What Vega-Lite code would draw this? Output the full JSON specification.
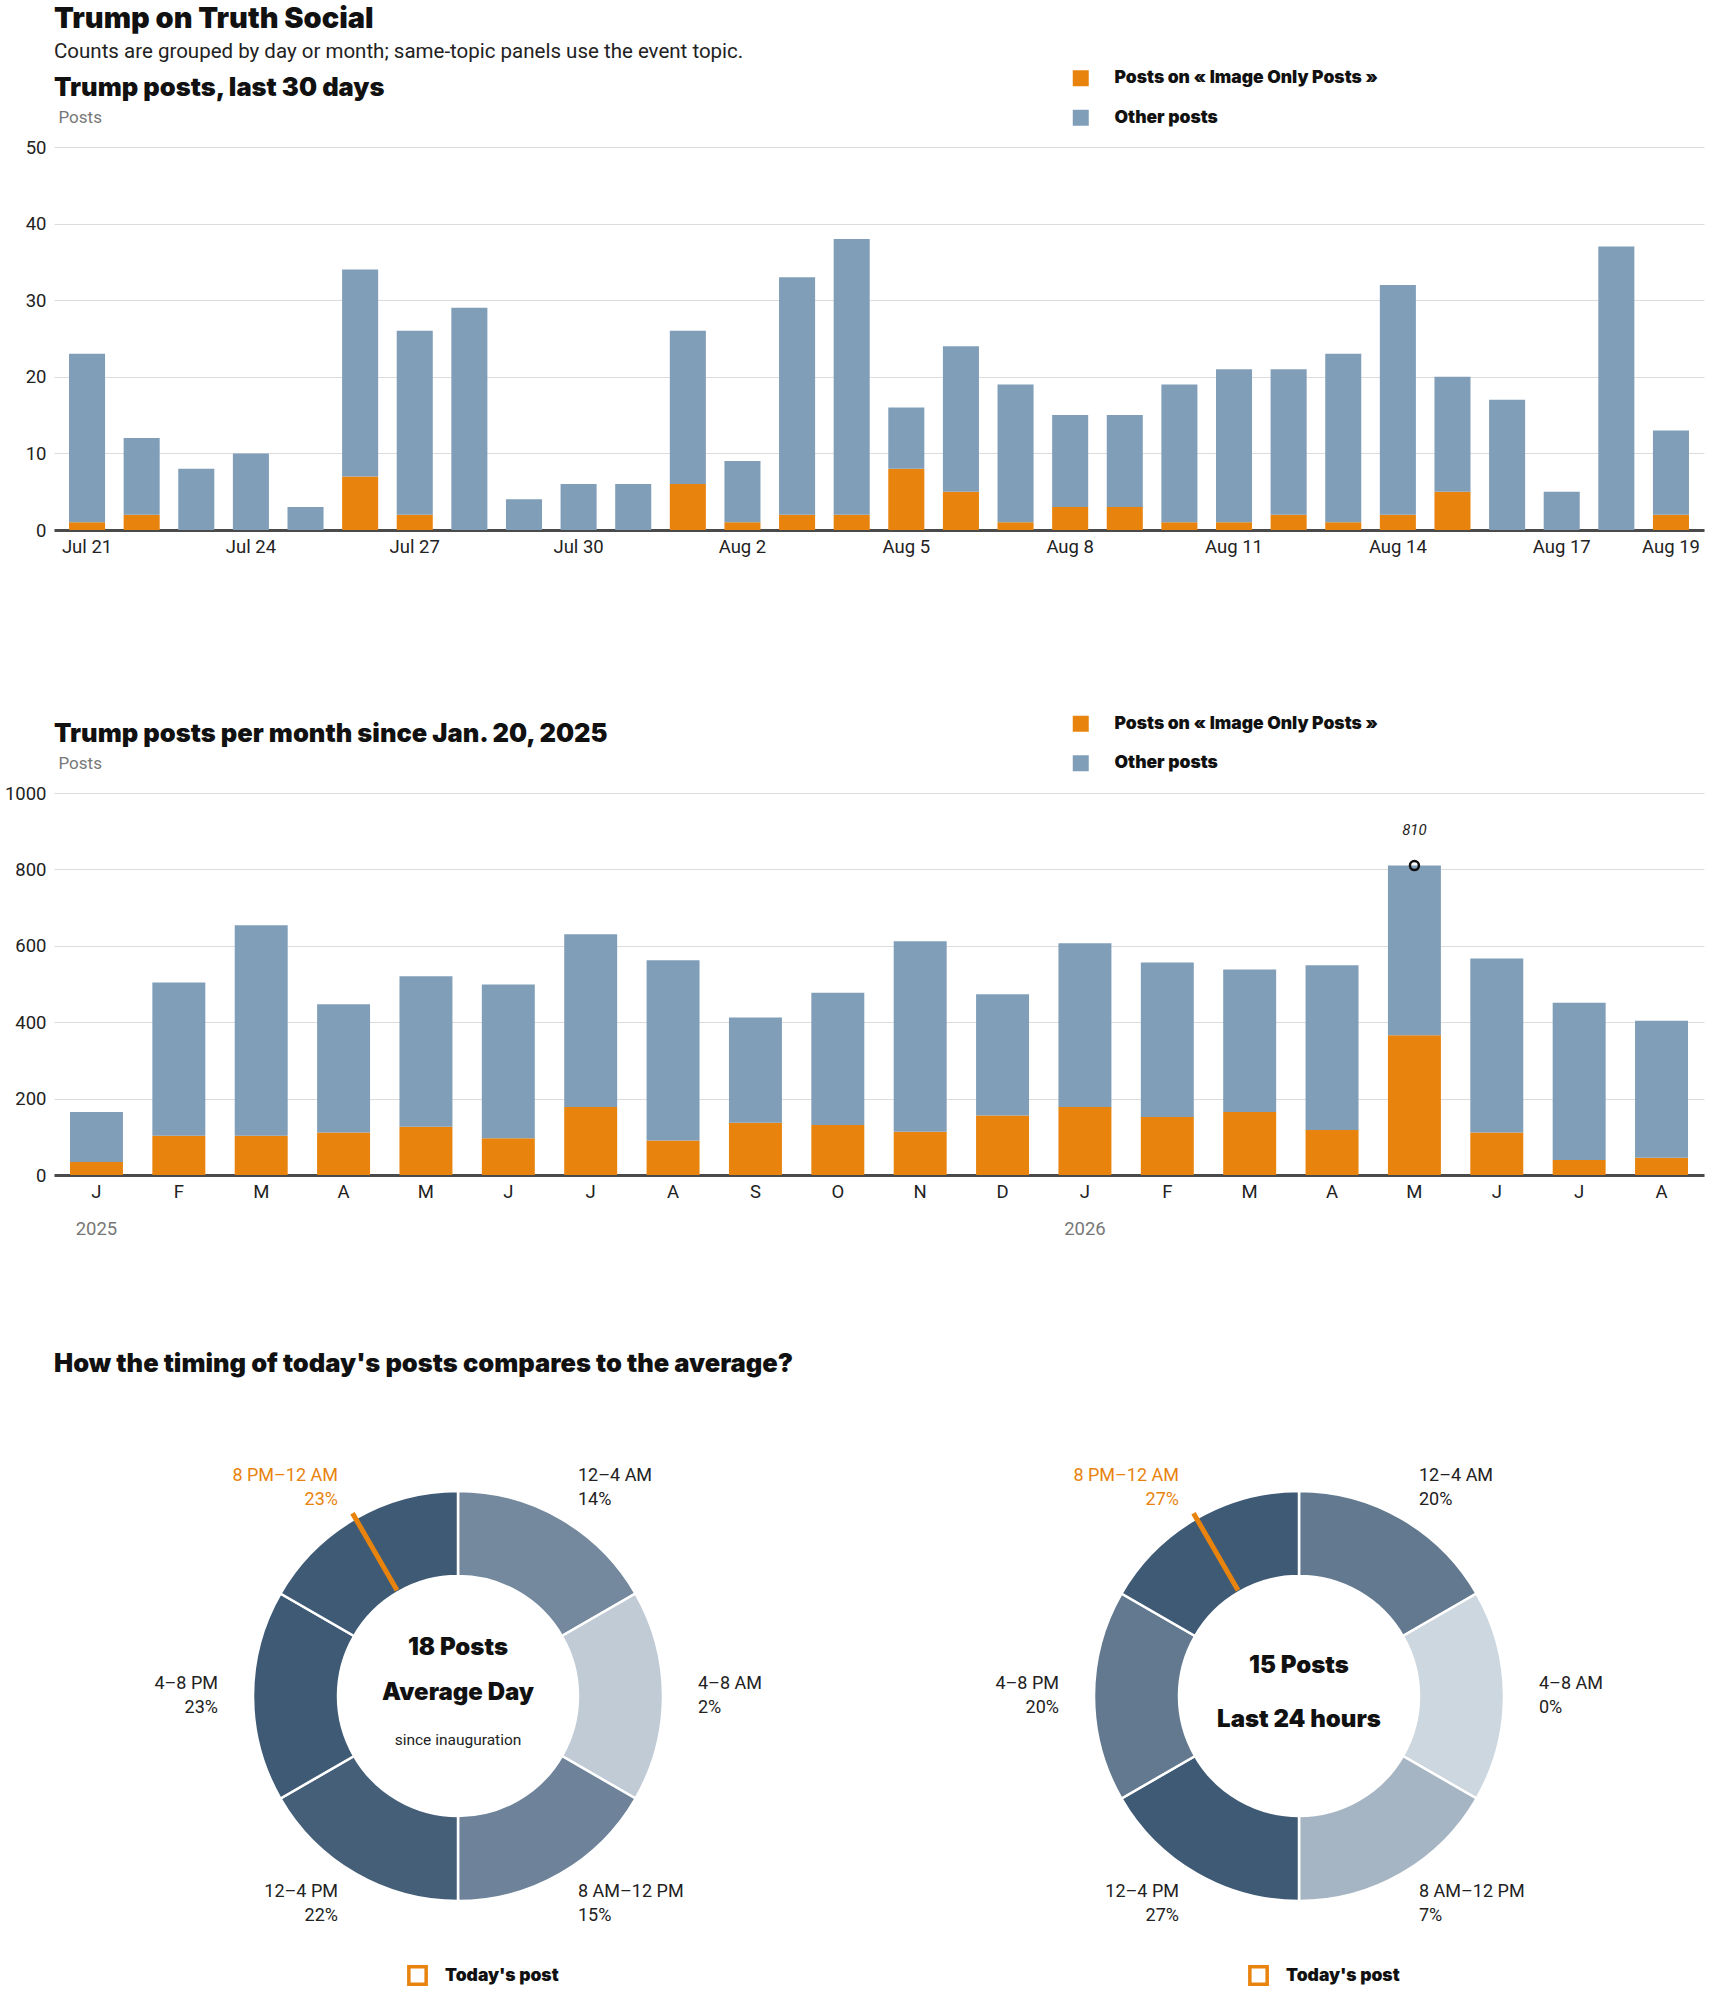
{
  "$schema": "https://vega.github.io/schema/vega-lite/v6.json",
  "background": "white",
  "padding": {"left": 4, "top": 5, "right": 4, "bottom": 2},
  "title": {
    "text": "Trump on Truth Social",
    "subtitle": "Counts are grouped by day or month; same-topic panels use the event topic.",
    "anchor": "start",
    "frame": "group",
    "font": "Inter",
    "fontWeight": 900,
    "fontSize": 29,
    "color": "#111",
    "subtitleFont": "Roboto",
    "subtitleFontSize": 20.5,
    "subtitleColor": "#222",
    "subtitlePadding": 8,
    "offset": 7
  },
  "datasets": {
    "dailyPosts": [
      {"day": "Jul 21", "image": 1, "other": 22},
      {"day": "Jul 22", "image": 2, "other": 10},
      {"day": "Jul 23", "image": 0, "other": 8},
      {"day": "Jul 24", "image": 0, "other": 10},
      {"day": "Jul 25", "image": 0, "other": 3},
      {"day": "Jul 26", "image": 7, "other": 27},
      {"day": "Jul 27", "image": 2, "other": 24},
      {"day": "Jul 28", "image": 0, "other": 29},
      {"day": "Jul 29", "image": 0, "other": 4},
      {"day": "Jul 30", "image": 0, "other": 6},
      {"day": "Jul 31", "image": 0, "other": 6},
      {"day": "Aug 1", "image": 6, "other": 20},
      {"day": "Aug 2", "image": 1, "other": 8},
      {"day": "Aug 3", "image": 2, "other": 31},
      {"day": "Aug 4", "image": 2, "other": 36},
      {"day": "Aug 5", "image": 8, "other": 8},
      {"day": "Aug 6", "image": 5, "other": 19},
      {"day": "Aug 7", "image": 1, "other": 18},
      {"day": "Aug 8", "image": 3, "other": 12},
      {"day": "Aug 9", "image": 3, "other": 12},
      {"day": "Aug 10", "image": 1, "other": 18},
      {"day": "Aug 11", "image": 1, "other": 20},
      {"day": "Aug 12", "image": 2, "other": 19},
      {"day": "Aug 13", "image": 1, "other": 22},
      {"day": "Aug 14", "image": 2, "other": 30},
      {"day": "Aug 15", "image": 5, "other": 15},
      {"day": "Aug 16", "image": 0, "other": 17},
      {"day": "Aug 17", "image": 0, "other": 5},
      {"day": "Aug 18", "image": 0, "other": 37},
      {"day": "Aug 19", "image": 2, "other": 11}
    ],
    "monthlyPosts": [
      {"month": "2025-01", "image": 34, "other": 131},
      {"month": "2025-02", "image": 103, "other": 401},
      {"month": "2025-03", "image": 103, "other": 551},
      {"month": "2025-04", "image": 111, "other": 336},
      {"month": "2025-05", "image": 126, "other": 394},
      {"month": "2025-06", "image": 96, "other": 403},
      {"month": "2025-07", "image": 178, "other": 452},
      {"month": "2025-08", "image": 90, "other": 472},
      {"month": "2025-09", "image": 137, "other": 275},
      {"month": "2025-10", "image": 131, "other": 346},
      {"month": "2025-11", "image": 113, "other": 499},
      {"month": "2025-12", "image": 156, "other": 317},
      {"month": "2026-01", "image": 178, "other": 429},
      {"month": "2026-02", "image": 152, "other": 404},
      {"month": "2026-03", "image": 165, "other": 373},
      {"month": "2026-04", "image": 118, "other": 431},
      {"month": "2026-05", "image": 366, "other": 444},
      {"month": "2026-06", "image": 111, "other": 456},
      {"month": "2026-07", "image": 39, "other": 412},
      {"month": "2026-08", "image": 45, "other": 359}
    ],
    "peakMonth": [{"month": "2026-05", "posts": 810}],
    "avgDay": [
      {"slot": 1, "period": "12–4 AM", "hours": 4, "share": 0.14},
      {"slot": 2, "period": "4–8 AM", "hours": 4, "share": 0.02},
      {"slot": 3, "period": "8 AM–12 PM", "hours": 4, "share": 0.15},
      {"slot": 4, "period": "12–4 PM", "hours": 4, "share": 0.22},
      {"slot": 5, "period": "4–8 PM", "hours": 4, "share": 0.23},
      {"slot": 6, "period": "8 PM–12 AM", "hours": 4, "share": 0.23}
    ],
    "last24": [
      {"slot": 1, "period": "12–4 AM", "hours": 4, "share": 0.20},
      {"slot": 2, "period": "4–8 AM", "hours": 4, "share": 0.0},
      {"slot": 3, "period": "8 AM–12 PM", "hours": 4, "share": 0.07},
      {"slot": 4, "period": "12–4 PM", "hours": 4, "share": 0.27},
      {"slot": 5, "period": "4–8 PM", "hours": 4, "share": 0.20},
      {"slot": 6, "period": "8 PM–12 AM", "hours": 4, "share": 0.27}
    ],
    "todayPost": [{"hour": 22, "label": "Today's post"}],
    "avgCenter": [{"count": "18 Posts", "caption": "Average Day", "note": "since inauguration"}],
    "lastCenter": [{"count": "15 Posts", "caption": "Last 24 hours"}]
  },
  "bounds": "flush",
  "spacing": 263,
  "resolve": {"scale": {"color": "independent", "stroke": "independent"}, "legend": {"color": "independent", "stroke": "independent"}},
  "vconcat": [
    {
      "width": 1650,
      "height": 383,
      "title": {"text": "Trump posts, last 30 days", "anchor": "start", "frame": "group", "offset": -32},
      "data": {"name": "dailyPosts"},
      "transform": [{"fold": ["image", "other"], "as": ["series", "posts"]}],
      "mark": {"type": "bar"},
      "encoding": {
        "x": {
          "field": "day", "type": "ordinal", "sort": null,
          "scale": {"paddingInner": 0.34, "paddingOuter": 0.275},
          "axis": {
            "title": null, "labelAngle": 0, "labelPadding": 7,
            "values": ["Jul 21", "Jul 24", "Jul 27", "Jul 30", "Aug 2", "Aug 5", "Aug 8", "Aug 11", "Aug 14", "Aug 17", "Aug 19"],
            "domain": true, "domainColor": "#4a4a4a", "domainWidth": 3
          }
        },
        "y": {
          "field": "posts", "type": "quantitative", "stack": "zero",
          "scale": {"domain": [0, 50]},
          "axis": {
            "values": [0, 10, 20, 30, 40, 50], "grid": true, "domain": false,
            "title": "Posts", "titleAngle": 0, "titleAlign": "left", "titleBaseline": "alphabetic",
            "titleX": 4, "titleY": -25
          }
        },
        "color": {
          "field": "series", "type": "nominal",
          "scale": {"domain": ["image", "other"], "range": ["#e8830e", "#809eb8"]},
          "legend": {
            "orient": "none", "legendX": 1018, "legendY": -77.5,
            "labelExpr": "datum.label == 'image' ? 'Posts on « Image Only Posts »' : 'Other posts'"
          }
        },
        "order": {"field": "series", "sort": "ascending"}
      }
    },
    {
      "width": 1650,
      "height": 382,
      "title": {"text": "Trump posts per month since Jan. 20, 2025", "anchor": "start", "frame": "group", "offset": -32},
      "resolve": {"axis": {"x": "independent"}},
      "layer": [
        {
          "data": {"name": "monthlyPosts"},
          "transform": [{"fold": ["image", "other"], "as": ["series", "posts"]}],
          "mark": {"type": "bar"},
          "encoding": {
            "x": {
              "field": "month", "type": "ordinal",
              "scale": {"paddingInner": 0.357, "paddingOuter": 0.194},
              "axis": {
                "title": null, "labelAngle": 0, "labelPadding": 7,
                "labelExpr": "['J','F','M','A','M','J','J','A','S','O','N','D'][toNumber(slice(datum.value, 5, 7)) - 1]",
                "domain": true, "domainColor": "#4a4a4a", "domainWidth": 3
              }
            },
            "y": {
              "field": "posts", "type": "quantitative", "stack": "zero",
              "scale": {"domain": [0, 1000]},
              "axis": {
                "values": [0, 200, 400, 600, 800, 1000], "format": "d", "grid": true, "domain": false,
                "title": "Posts", "titleAngle": 0, "titleAlign": "left", "titleBaseline": "alphabetic",
                "titleX": 4, "titleY": -25
              }
            },
            "color": {
              "field": "series", "type": "nominal",
              "scale": {"domain": ["image", "other"], "range": ["#e8830e", "#809eb8"]},
              "legend": {
                "orient": "none", "legendX": 1018, "legendY": -78,
                "labelExpr": "datum.label == 'image' ? 'Posts on « Image Only Posts »' : 'Other posts'"
              }
            },
            "order": {"field": "series", "sort": "ascending"}
          }
        },
        {
          "data": {"name": "peakMonth"},
          "mark": {"type": "point", "shape": "circle", "filled": false, "size": 80, "stroke": "#111", "strokeWidth": 2.5, "opacity": 1},
          "encoding": {
            "x": {
              "field": "month", "type": "ordinal",
              "axis": {
                "orient": "bottom", "offset": 38, "title": null, "labelAngle": 0, "labelPadding": 6,
                "domain": false, "ticks": false, "labelColor": "#777",
                "labelExpr": "slice(datum.value, 5, 7) == '01' ? slice(datum.value, 0, 4) : ''"
              }
            },
            "y": {"field": "posts", "type": "quantitative"}
          }
        },
        {
          "data": {"name": "peakMonth"},
          "mark": {"type": "text", "dy": -36, "fontStyle": "italic", "fontSize": 15, "color": "#222"},
          "encoding": {
            "x": {"field": "month", "type": "ordinal", "axis": null},
            "y": {"field": "posts", "type": "quantitative"},
            "text": {"field": "posts", "type": "quantitative"}
          }
        }
      ]
    },
    {
      "title": {"text": "How the timing of today's posts compares to the average?", "anchor": "start", "frame": "group", "offset": 61},
      "bounds": "flush",
      "spacing": 33,
      "resolve": {"scale": {"color": "independent", "stroke": "independent", "theta": "independent"}, "legend": {"stroke": "independent"}},
      "hconcat": [
        {
          "width": 808,
          "height": 516,
          "layer": [
            {
              "data": {"name": "avgDay"},
              "mark": {"type": "arc", "radius": 205, "radius2": 120, "stroke": "white", "strokeWidth": 2.5},
              "encoding": {
                "theta": {"field": "hours", "type": "quantitative", "stack": true, "scale": {"domain": [0, 24]}},
                "order": {"field": "slot"},
                "color": {"field": "share", "type": "quantitative", "scale": {"domain": [0, 0.23], "range": ["#cdd7e0", "#3f5a75"]}, "legend": null}
              }
            },
            {
              "data": {"name": "avgDay"},
              "mark": {"type": "text", "radius": 240, "dy": -12, "fontSize": 18, "baseline": "middle", "align": {"expr": "datum.slot <= 3 ? 'left' : 'right'"}},
              "encoding": {
                "theta": {"field": "hours", "type": "quantitative", "stack": true},
                "order": {"field": "slot"},
                "text": {"field": "period"},
                "color": {"condition": {"test": "datum.slot == 6", "value": "#e8830e"}, "value": "#222"}
              }
            },
            {
              "data": {"name": "avgDay"},
              "mark": {"type": "text", "radius": 240, "dy": 12, "fontSize": 18, "baseline": "middle", "align": {"expr": "datum.slot <= 3 ? 'left' : 'right'"}},
              "encoding": {
                "theta": {"field": "hours", "type": "quantitative", "stack": true},
                "order": {"field": "slot"},
                "text": {"field": "share", "type": "quantitative", "format": ".0%"},
                "color": {"condition": {"test": "datum.slot == 6", "value": "#e8830e"}, "value": "#222"}
              }
            },
            {
              "data": {"name": "todayPost"},
              "mark": {"type": "arc", "radius": 211, "radius2": 122, "strokeWidth": 5, "strokeCap": "round", "filled": false},
              "encoding": {
                "theta": {"field": "hour", "type": "quantitative", "stack": null},
                "theta2": {"field": "hour"},
                "stroke": {
                  "field": "label", "type": "nominal",
                  "scale": {"range": ["#e8830e"]},
                  "legend": {"orient": "none", "legendX": 353, "legendY": 527, "title": null, "symbolType": "square", "symbolSize": 300, "symbolStrokeWidth": 3.5, "symbolFillColor": "white", "labelOffset": 17}
                }
              }
            },
            {
              "data": {"name": "avgCenter"},
              "mark": {"type": "text", "dy": -48, "font": "Inter", "fontWeight": 900, "fontSize": 24, "color": "#111", "baseline": "middle"},
              "encoding": {"text": {"field": "count"}}
            },
            {
              "data": {"name": "avgCenter"},
              "mark": {"type": "text", "dy": -3, "font": "Inter", "fontWeight": 900, "fontSize": 24, "color": "#111", "baseline": "middle"},
              "encoding": {"text": {"field": "caption"}}
            },
            {
              "data": {"name": "avgCenter"},
              "mark": {"type": "text", "dy": 44, "fontSize": 15.5, "color": "#222", "baseline": "middle"},
              "encoding": {"text": {"field": "note"}}
            }
          ]
        },
        {
          "width": 808,
          "height": 516,
          "layer": [
            {
              "data": {"name": "last24"},
              "mark": {"type": "arc", "radius": 205, "radius2": 120, "stroke": "white", "strokeWidth": 2.5},
              "encoding": {
                "theta": {"field": "hours", "type": "quantitative", "stack": true, "scale": {"domain": [0, 24]}},
                "order": {"field": "slot"},
                "color": {"field": "share", "type": "quantitative", "scale": {"domain": [0, 0.27], "range": ["#cdd7e0", "#3f5a75"]}, "legend": null}
              }
            },
            {
              "data": {"name": "last24"},
              "mark": {"type": "text", "radius": 240, "dy": -12, "fontSize": 18, "baseline": "middle", "align": {"expr": "datum.slot <= 3 ? 'left' : 'right'"}},
              "encoding": {
                "theta": {"field": "hours", "type": "quantitative", "stack": true},
                "order": {"field": "slot"},
                "text": {"field": "period"},
                "color": {"condition": {"test": "datum.slot == 6", "value": "#e8830e"}, "value": "#222"}
              }
            },
            {
              "data": {"name": "last24"},
              "mark": {"type": "text", "radius": 240, "dy": 12, "fontSize": 18, "baseline": "middle", "align": {"expr": "datum.slot <= 3 ? 'left' : 'right'"}},
              "encoding": {
                "theta": {"field": "hours", "type": "quantitative", "stack": true},
                "order": {"field": "slot"},
                "text": {"field": "share", "type": "quantitative", "format": ".0%"},
                "color": {"condition": {"test": "datum.slot == 6", "value": "#e8830e"}, "value": "#222"}
              }
            },
            {
              "data": {"name": "todayPost"},
              "mark": {"type": "arc", "radius": 211, "radius2": 122, "strokeWidth": 5, "strokeCap": "round", "filled": false},
              "encoding": {
                "theta": {"field": "hour", "type": "quantitative", "stack": null},
                "theta2": {"field": "hour"},
                "stroke": {
                  "field": "label", "type": "nominal",
                  "scale": {"range": ["#e8830e"]},
                  "legend": {"orient": "none", "legendX": 353, "legendY": 527, "title": null, "symbolType": "square", "symbolSize": 300, "symbolStrokeWidth": 3.5, "symbolFillColor": "white", "labelOffset": 17}
                }
              }
            },
            {
              "data": {"name": "lastCenter"},
              "mark": {"type": "text", "dy": -30, "font": "Inter", "fontWeight": 900, "fontSize": 24, "color": "#111", "baseline": "middle"},
              "encoding": {"text": {"field": "count"}}
            },
            {
              "data": {"name": "lastCenter"},
              "mark": {"type": "text", "dy": 24, "font": "Inter", "fontWeight": 900, "fontSize": 24, "color": "#111", "baseline": "middle"},
              "encoding": {"text": {"field": "caption"}}
            }
          ]
        }
      ]
    }
  ],
  "config": {
    "view": {"stroke": null},
    "font": "Roboto",
    "title": {"font": "Inter", "fontWeight": 900, "fontSize": 25.5, "color": "#111"},
    "axis": {
      "labelFont": "Roboto", "labelFontSize": 18.5, "labelColor": "#222", "ticks": false,
      "gridColor": "#dcdcdc", "gridWidth": 1, "labelPadding": 8,
      "titleFont": "Roboto", "titleFontSize": 17, "titleFontWeight": "normal", "titleColor": "#777"
    },
    "legend": {
      "title": null, "symbolType": "square", "symbolSize": 256, "symbolStrokeWidth": 0,
      "labelFont": "Inter", "labelFontWeight": 900, "labelFontSize": 17.5, "labelColor": "#111",
      "labelOffset": 25, "rowPadding": 20.5, "labelLimit": 400
    },
    "text": {"font": "Roboto"}
  }
}
